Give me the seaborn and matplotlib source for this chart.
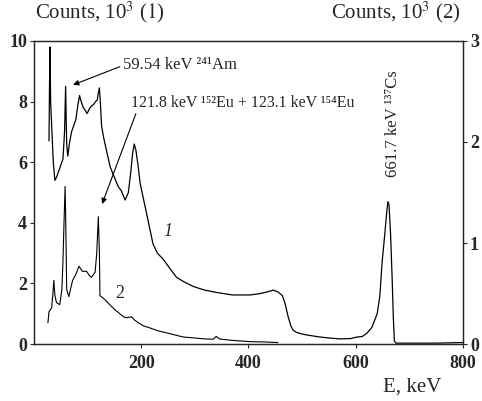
import numpy as np
import pandas as pd
import matplotlib
matplotlib.use("Agg")
import matplotlib.pyplot as plt
import seaborn as sns

# curve 1 (left axis), counts 10^3
e1 = [28, 29, 30, 31, 33, 36, 39, 42, 46, 50, 54, 57, 59, 60, 61, 63, 66, 70, 74, 78,
      82, 85, 88, 92, 96, 99, 103, 107, 111, 115, 118, 120, 122, 124, 126, 130, 135, 142,
      150, 157, 163, 170, 176, 180, 184, 187, 190, 194, 198, 204, 210, 216, 222, 230, 241,
      253, 266, 280, 297, 318, 341, 370, 403, 420, 435, 446, 455, 463, 468, 474, 479, 483,
      490, 500, 509, 530, 550, 571, 590, 602, 612, 621, 630, 640, 645, 649, 654, 658, 660,
      662, 665, 668, 670, 672, 675, 680, 700, 750, 800]
c1 = [6.7, 8.6, 9.8, 8.0, 7.2, 6.0, 5.4, 5.5, 5.7, 5.9, 6.1, 7.0, 8.5, 7.5, 6.6, 6.2, 6.6,
      7.0, 7.2, 7.4, 7.9, 8.2, 8.0, 7.8, 7.7, 7.6, 7.75, 7.85, 7.9, 8.0, 8.05, 8.3, 8.45,
      7.9, 7.2, 6.8, 6.4, 5.85, 5.5, 5.2, 5.05, 4.75, 5.0, 5.6, 6.3, 6.6, 6.4, 5.9, 5.3,
      4.8, 4.3, 3.8, 3.3, 3.0, 2.8, 2.5, 2.2, 2.05, 1.9, 1.78, 1.7, 1.62, 1.62, 1.66, 1.72,
      1.78, 1.72, 1.6, 1.35, 0.9, 0.6, 0.46, 0.38, 0.33, 0.3, 0.24, 0.2, 0.17, 0.18, 0.23,
      0.25, 0.36, 0.55, 1.0, 1.6, 2.67, 3.6, 4.4, 4.7, 4.6, 3.6, 2.1, 0.9, 0.1, 0.03, 0.03,
      0.03, 0.03, 0.05]

# curve 2 (right axis), counts 10^3
e2 = [26, 28, 33, 35, 37, 39, 42, 48, 52, 54, 56, 58, 59, 61, 65, 68, 72, 78, 84, 90, 98,
      103, 107, 111, 114, 117, 120, 122, 123, 130, 136, 143, 151, 160, 167, 173, 182, 187,
      192, 204, 216, 232, 248, 263, 278, 300, 320, 334, 340, 346, 370, 403, 430, 455]
c2 = [0.21, 0.32, 0.36, 0.48, 0.63, 0.48, 0.41, 0.39, 0.54, 0.81, 1.2, 1.56, 1.29, 0.54,
      0.47, 0.54, 0.63, 0.69, 0.77, 0.72, 0.72, 0.68, 0.66, 0.69, 0.71, 0.9, 1.26, 0.9, 0.48,
      0.45, 0.42, 0.38, 0.34, 0.3, 0.27, 0.26, 0.27, 0.24, 0.22, 0.18, 0.16, 0.13, 0.11,
      0.09, 0.07, 0.06, 0.05, 0.048, 0.075, 0.05, 0.036, 0.024, 0.021, 0.015]

sns.set_style("ticks")
plt.rcParams["font.family"] = ["Liberation Serif", "DejaVu Serif"]
plt.rcParams["mathtext.fontset"] = "stix"

df1 = pd.DataFrame({"E": e1, "counts": c1})
df2 = pd.DataFrame({"E": e2, "counts": c2})

fig = plt.figure(figsize=(4.82, 4.01), dpi=100)
ax = fig.add_axes([0.0705, 0.142, 0.8901, 0.756])
ax2 = ax.twinx()

sns.lineplot(data=df1, x="E", y="counts", ax=ax, color="black", lw=0.9, sort=False)
sns.lineplot(data=df2, x="E", y="counts", ax=ax2, color="black", lw=0.8, sort=False)

ax.set_xlim(0, 800)
ax.set_ylim(0, 10)
ax2.set_ylim(0, 3)
ax.set_xticks([200, 400, 600, 800])
ax.set_yticks([0, 2, 4, 6, 8, 10])
ax2.set_yticks([0, 1, 2, 3])
ax.set_xlabel("")
ax.set_ylabel("")
ax2.set_ylabel("")

for a in (ax, ax2):
    a.tick_params(direction="out", length=3, width=0.8, pad=2, labelsize=13)
    for lab in a.get_xticklabels() + a.get_yticklabels():
        lab.set_fontweight("bold")
    for s in a.spines.values():
        s.set_linewidth(0.9)
        s.set_visible(True)
ax.tick_params(axis="x", pad=5)

# annotations: arrows drawn apart from their labels
arrow = dict(arrowstyle="-|>", color="black", lw=0.8, mutation_scale=8,
             shrinkA=0, shrinkB=0)
ax.annotate("", xy=(73, 8.55), xytext=(160, 9.15), arrowprops=arrow)
ax.text(166, 9.2, "59.54 keV ²⁴¹Am", fontsize=12, va="center", ha="left")
ax.annotate("", xy=(127, 4.62), xytext=(190, 7.6), arrowprops=arrow)
ax.text(180, 7.95, "121.8 keV ¹⁵²Eu + 123.1 keV ¹⁵⁴Eu",
        fontsize=11.5, va="center", ha="left")
ax.text(670, 5.5, "661.7 keV ¹³⁷Cs", rotation=90, fontsize=12,
        ha="center", va="bottom")
ax.text(250, 3.7, "1", fontsize=13, fontstyle="italic", ha="center", va="center")
ax.text(159, 1.68, "2", fontsize=13, ha="center", va="center")

fig.text(35 / 482, 1 - 18 / 401, r"Counts, 10$^3$ ($\mathit{1}$)", fontsize=15,
         ha="left", va="baseline")
fig.text(461 / 482, 1 - 18 / 401, r"Counts, 10$^3$ (2)", fontsize=15,
         ha="right", va="baseline")
fig.text(441 / 482, 4 / 401, "E, keV", fontsize=15, ha="right", va="bottom")

fig.savefig("out.png", dpi=100)
